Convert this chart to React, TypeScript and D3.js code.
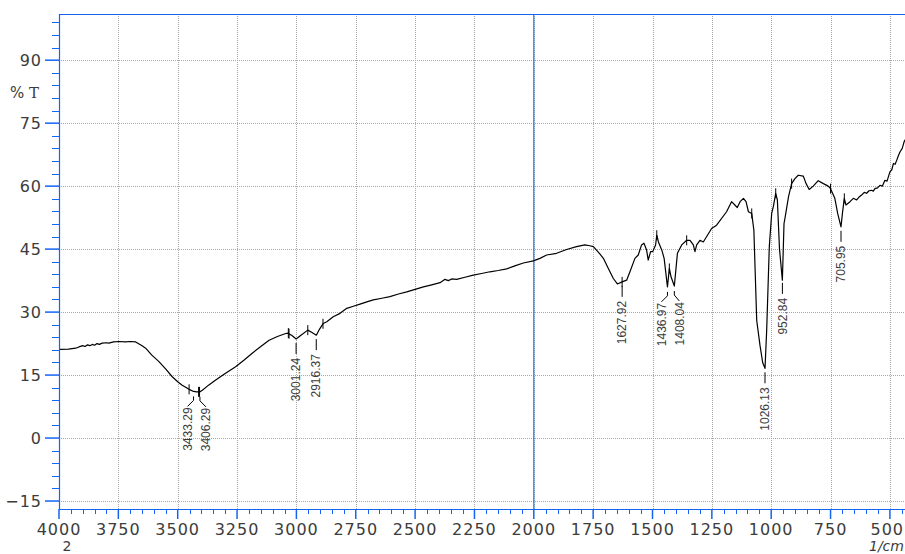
import React from "react";
import * as d3 from "d3";

// ---- data ----
const WAVENUMBERS = [
  4000, 3960, 3930, 3916, 3900, 3890, 3880, 3870, 3860, 3850, 3840, 3830, 3818, 3800, 3790, 3770, 3747, 3720, 3700, 3677,
  3650, 3635, 3610, 3579, 3550, 3523, 3500, 3481, 3452, 3433, 3420, 3406, 3396, 3370, 3340, 3300, 3256, 3220, 3186, 3150,
  3115, 3080, 3045, 3034, 3028, 3020, 3001, 2985, 2952, 2936, 2916, 2903, 2887, 2872, 2845, 2816, 2788, 2760, 2732, 2700,
  2676, 2640, 2606, 2570, 2535, 2500, 2465, 2430, 2395, 2374, 2360, 2346, 2325, 2290, 2255, 2220, 2185, 2150, 2114, 2080,
  2044, 2002, 1974, 1946, 1904, 1862, 1820, 1785, 1764, 1749, 1721, 1707, 1686, 1665, 1648, 1628, 1609, 1595, 1574, 1560,
  1546, 1536, 1525, 1518, 1508, 1499, 1487, 1482, 1475, 1461, 1451, 1437, 1429, 1422, 1408, 1400, 1395, 1377, 1356, 1342,
  1328, 1321, 1314, 1300, 1286, 1251, 1230, 1188, 1167, 1153, 1143, 1131, 1117, 1106, 1096, 1082, 1073, 1061, 1047, 1036,
  1026, 1019, 1008, 998, 991, 981, 974, 965, 953, 946, 941, 927, 914, 900, 886, 865, 853, 840, 823, 802,
  780, 760, 750, 732, 720, 706, 700, 692, 685, 668, 654, 640, 630, 619, 608, 598, 588, 577, 570, 563,
  552, 542, 532, 521, 512, 500, 492, 485, 478, 471, 464, 457, 448, 440, 425,
];
const TRANSMITTANCE = [
  21.1, 21.2, 21.4, 21.7, 22.0, 21.8, 22.2, 22.0, 22.3, 22.1, 22.5, 22.3, 22.6, 22.7, 22.6, 22.9, 23.0, 22.9, 23.0, 22.9,
  22.0, 21.4, 19.8, 18.2, 16.4, 14.6, 13.4, 12.6, 11.6, 11.1, 11.0, 11.0, 11.4, 12.6, 13.8, 15.4, 17.0, 18.6, 20.2, 21.8,
  23.3, 24.2, 24.9, 25.0, 24.7, 24.5, 23.6, 24.3, 25.7, 25.2, 24.5, 25.9, 27.3, 27.7, 28.9, 29.7, 30.9, 31.4, 31.9, 32.5,
  32.9, 33.3, 33.7, 34.3, 34.8, 35.4, 36.0, 36.5, 37.0, 37.8, 37.5, 37.9, 37.8, 38.3, 38.8, 39.2, 39.6, 39.9, 40.3, 41.0,
  41.7, 42.2, 42.8, 43.6, 44.0, 44.9, 45.6, 46.0, 45.8, 45.6, 43.8, 42.8, 40.4, 38.0, 36.7, 37.2, 37.6, 39.6, 42.8, 43.6,
  46.0, 46.4, 44.8, 42.4, 44.4, 44.4, 46.0, 48.3, 46.7, 44.8, 42.8, 36.0, 40.4, 38.4, 36.2, 41.0, 44.0, 46.0, 47.1, 47.1,
  46.0, 44.4, 46.0, 47.1, 46.7, 49.9, 50.7, 53.9, 56.3, 55.5, 54.9, 56.3, 57.1, 56.3, 53.9, 53.5, 49.5, 28.0, 22.0, 18.0,
  16.6, 25.7, 45.6, 53.5, 55.1, 58.3, 56.7, 45.0, 37.6, 51.1, 52.7, 57.5, 60.6, 61.8, 62.6, 62.4, 60.6, 59.2, 60.0, 61.3,
  60.6, 60.0, 59.4, 57.1, 53.5, 50.3, 53.5, 57.1, 55.5, 56.3, 57.1, 56.7, 57.4, 57.9, 58.5, 58.3, 58.9, 59.0, 58.8, 59.4,
  59.6, 60.2, 60.0, 61.4, 61.2, 63.4, 63.9, 65.4, 65.2, 66.2, 67.3, 68.2, 69.0, 70.6, 72.0,
];

const X_TICKS = [4000, 3750, 3500, 3250, 3000, 2750, 2500, 2250, 2000, 1750, 1500, 1250, 1000, 750, 500];
const Y_TICKS = [-15, 0, 15, 30, 45, 60, 75, 90];

const PEAK_WN = [3433.29, 3406.29, 3001.24, 2916.37, 1627.92, 1436.97, 1408.04, 1026.13, 952.84, 705.95];
const PEAK_LABELS = ["3433.29", "3406.29", "3001.24", "2916.37", "1627.92", "1436.97", "1408.04", "1026.13", "952.84", "705.95"];

const MARKER_WN = [3452, 3412, 3408, 3034, 3031, 2952, 2888, 1628, 1482, 1429, 1356, 1082, 981, 914, 750, 692];

// layout-only: horizontal shift of crowded labels
const LABEL_SHIFT: Record<string, number> = { "3433.29": -6, "3406.29": 6, "1436.97": -6, "1408.04": 5 };

const W = 905;
const H = 554;
const BLUE = "#1464f4";
const TEXT = "#3c3c3c";

export default function App() {
  const x = d3.scaleLinear().domain([4000, 400]).range([59, 59 + 3600 * 0.2374]);
  const y = d3.scaleLinear().domain([-16.9, 101]).range([509, 14]);

  const pts: [number, number][] = WAVENUMBERS.map((w, i) => [w, TRANSMITTANCE[i]]);
  const line = d3
    .line<[number, number]>()
    .x((d) => x(d[0]))
    .y((d) => y(d[1]));

  const asc = pts.slice().sort((a, b) => a[0] - b[0]);
  const bis = d3.bisector((d: [number, number]) => d[0]).left;
  const tAt = (w: number) => {
    const i = Math.max(1, Math.min(asc.length - 1, bis(asc, w)));
    const a = asc[i - 1];
    const b = asc[i];
    const t = (w - a[0]) / (b[0] - a[0]);
    return a[1] + t * (b[1] - a[1]);
  };

  const minorX = d3.range(4000, 400, -50).filter((v) => v % 250 !== 0);
  const minorY = d3.range(-15, 100, 3).filter((v) => v % 15 !== 0);
  const plotL = 59;
  const plotR = W;
  const plotT = 14;
  const plotB = 509;
  const font = "'DejaVu Sans', sans-serif";
  const peakFont = "'Liberation Sans', Arial, sans-serif";

  return (
    <svg
      width={W}
      height={H}
      style={{ position: "absolute", left: 0, top: 0, background: "#fff" }}
      xmlns="http://www.w3.org/2000/svg"
    >
      <rect x={0} y={0} width={W} height={H} fill="#fff" />
      {/* grid */}
      <g stroke="#a8a8a8" strokeWidth={1} strokeDasharray="1 1">
        {X_TICKS.filter((v) => v !== 4000).map((v) => (
          <line key={"gx" + v} x1={Math.round(x(v)) + 0.5} x2={Math.round(x(v)) + 0.5} y1={plotT} y2={plotB} />
        ))}
        {Y_TICKS.map((v) => (
          <line key={"gy" + v} x1={plotL} x2={plotR} y1={Math.round(y(v)) + 0.5} y2={Math.round(y(v)) + 0.5} />
        ))}
      </g>
      {/* cursor line at 2000 */}
      <line x1={x(2000)} x2={x(2000)} y1={plotT} y2={plotB} stroke="#3a7be6" strokeWidth={1.3} />

      {/* spectrum */}
      <path d={line(pts) || ""} fill="none" stroke="#000" strokeWidth={1.2} strokeLinejoin="round" />

      {/* peak-pick markers */}
      <g stroke="#000" strokeWidth={1}>
        {MARKER_WN.map((w, i) => {
          const px = x(w);
          const py = y(tAt(w));
          return <line key={"m" + i} x1={px} x2={px} y1={py - 5} y2={py + 5} />;
        })}
      </g>

      {/* peak labels */}
      <g>
        {PEAK_WN.map((w, i) => {
          const lab = PEAK_LABELS[i];
          const px = x(w);
          const py = y(tAt(w));
          const dx = LABEL_SHIFT[lab] || 0;
          if (dx !== 0) {
            return (
              <g key={"p" + i}>
                <polyline
                  points={`${px},${py + 5} ${px},${py + 9} ${px + dx},${py + 15}`}
                  fill="none"
                  stroke="#000"
                  strokeWidth={1}
                />
                <text
                  transform={`translate(${px + dx},${py + 16}) rotate(-90)`}
                  textAnchor="end"
                  dy="0.35em"
                  fontFamily={peakFont}
                  fontSize={12}
                  fill={TEXT}
                >
                  {lab}
                </text>
              </g>
            );
          }
          return (
            <g key={"p" + i}>
              <line x1={px} x2={px} y1={py + 4} y2={py + 15} stroke="#000" strokeWidth={1} />
              <text
                transform={`translate(${px},${py + 19}) rotate(-90)`}
                textAnchor="end"
                dy="0.35em"
                fontFamily={peakFont}
                fontSize={12}
                fill={TEXT}
              >
                {lab}
              </text>
            </g>
          );
        })}
      </g>

      {/* axes frame */}
      <line x1={plotL + 0.5} x2={plotL + 0.5} y1={plotT} y2={plotB} stroke={BLUE} strokeWidth={1.2} />
      <line x1={plotL} x2={plotR} y1={plotT + 0.5} y2={plotT + 0.5} stroke={BLUE} strokeWidth={1.2} />
      <line x1={plotL} x2={plotR} y1={plotB + 0.5} y2={plotB + 0.5} stroke={BLUE} strokeWidth={1.2} />

      {/* x ticks */}
      <g stroke={BLUE}>
        {X_TICKS.map((v) => (
          <line key={"tx" + v} x1={x(v)} x2={x(v)} y1={plotB} y2={plotB + 10} strokeWidth={1.5} />
        ))}
        {minorX.map((v) => (
          <line key={"mx" + v} x1={Math.round(x(v)) + 0.5} x2={Math.round(x(v)) + 0.5} y1={plotB} y2={plotB + 5} strokeWidth={1} />
        ))}
      </g>
      {/* y ticks */}
      <g stroke={BLUE}>
        {Y_TICKS.map((v) => (
          <line key={"ty" + v} x1={45} x2={plotL} y1={y(v)} y2={y(v)} strokeWidth={1.5} />
        ))}
        {minorY.map((v) => (
          <line key={"my" + v} x1={52} x2={plotL} y1={Math.round(y(v)) + 0.5} y2={Math.round(y(v)) + 0.5} strokeWidth={1} />
        ))}
      </g>

      {/* tick labels */}
      <g fontFamily={font} fontSize={16} fill={TEXT} letterSpacing={1}>
        {X_TICKS.map((v) => {
          const px = x(v);
          const atEdge = px + 19 > W;
          return (
            <text key={"lx" + v} x={atEdge ? W - 1 : px} y={535} textAnchor={atEdge ? "end" : "middle"}>
              {v}
            </text>
          );
        })}
        {Y_TICKS.map((v) => (
          <text key={"ly" + v} x={42} y={y(v)} dy="0.36em" textAnchor="end">
            {v < 0 ? "\u2212" + Math.abs(v) : v}
          </text>
        ))}
      </g>
      <text x={10} y={98} fontFamily={font} fontSize={15} fill={TEXT}>
        %{" "}
        <tspan fontFamily="'DejaVu Serif', serif">T</tspan>
      </text>
      <text x={67} y={551} fontFamily={font} fontSize={14} fill={TEXT} textAnchor="middle">
        2
      </text>
      <text x={869} y={551} fontFamily={font} fontSize={14} fill={TEXT} fontStyle="italic">
        1/cm
      </text>
    </svg>
  );
}
